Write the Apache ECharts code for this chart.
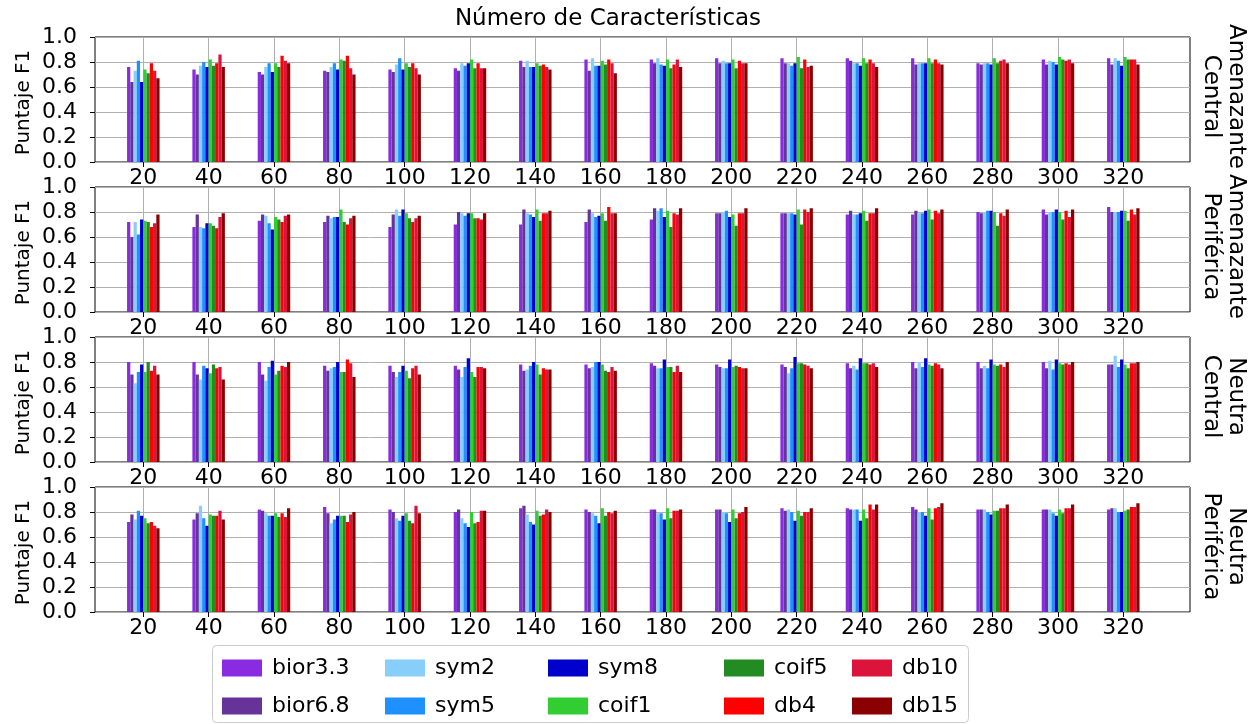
<!DOCTYPE html>
<html><head><meta charset="utf-8">
<script src="https://cdn.jsdelivr.net/npm/echarts@6.0.0/dist/echarts.min.js"></script>
<style>html,body{margin:0;padding:0;background:#fff}#c{width:1260px;height:724px}</style>
</head><body><div id="c"></div>
<script>
// ---------------- DATA ----------------
const categories = ['20','40','60','80','100','120','140','160','180','200','220','240','260','280','300','320'];
const waveletNames = ['bior3.3','bior6.8','sym2','sym5','sym8','coif1','coif5','db4','db10','db15'];
const panelLabels = [['Amenazante','Central'],['Amenazante','Periférica'],['Neutra','Central'],['Neutra','Periférica']];
const titleText = 'Número de Características';
const yAxisTitle = 'Puntaje F1';
// rows = categories (20..320), columns = wavelets in waveletNames order
const amenazanteCentral = [
  [0.76,0.64,0.73,0.81,0.64,0.74,0.71,0.79,0.73,0.67],
  [0.74,0.70,0.77,0.80,0.76,0.82,0.77,0.79,0.86,0.76],
  [0.72,0.70,0.76,0.79,0.72,0.79,0.76,0.85,0.81,0.79],
  [0.73,0.72,0.76,0.79,0.74,0.82,0.81,0.85,0.75,0.70],
  [0.74,0.72,0.78,0.83,0.74,0.79,0.76,0.79,0.75,0.70],
  [0.75,0.73,0.79,0.77,0.79,0.82,0.75,0.79,0.75,0.75],
  [0.81,0.76,0.81,0.76,0.76,0.79,0.77,0.78,0.76,0.74],
  [0.82,0.73,0.83,0.77,0.77,0.81,0.78,0.82,0.79,0.71],
  [0.82,0.79,0.83,0.78,0.77,0.82,0.75,0.78,0.82,0.76],
  [0.83,0.79,0.81,0.79,0.79,0.82,0.75,0.81,0.79,0.79],
  [0.83,0.79,0.79,0.77,0.79,0.84,0.75,0.82,0.76,0.77],
  [0.83,0.81,0.79,0.79,0.77,0.83,0.79,0.82,0.79,0.76],
  [0.83,0.78,0.79,0.79,0.79,0.83,0.79,0.82,0.79,0.78],
  [0.79,0.78,0.79,0.79,0.78,0.83,0.79,0.81,0.82,0.79],
  [0.82,0.78,0.81,0.80,0.78,0.84,0.82,0.81,0.82,0.79],
  [0.83,0.78,0.83,0.81,0.77,0.84,0.82,0.82,0.82,0.78]
];
const amenazantePeriferica = [
  [0.72,0.60,0.72,0.62,0.74,0.73,0.72,0.68,0.71,0.78],
  [0.68,0.78,0.68,0.67,0.71,0.71,0.69,0.67,0.76,0.79],
  [0.73,0.78,0.77,0.71,0.66,0.76,0.74,0.72,0.77,0.78],
  [0.72,0.77,0.75,0.76,0.76,0.82,0.72,0.70,0.75,0.77],
  [0.68,0.78,0.82,0.77,0.82,0.79,0.75,0.72,0.75,0.77],
  [0.70,0.80,0.79,0.77,0.79,0.79,0.75,0.75,0.74,0.79],
  [0.70,0.82,0.79,0.78,0.76,0.82,0.73,0.79,0.79,0.81],
  [0.72,0.82,0.79,0.76,0.77,0.79,0.73,0.84,0.79,0.79],
  [0.74,0.83,0.81,0.83,0.76,0.81,0.68,0.79,0.78,0.83],
  [0.79,0.79,0.80,0.81,0.76,0.78,0.69,0.79,0.79,0.83],
  [0.79,0.79,0.79,0.79,0.78,0.82,0.70,0.82,0.80,0.83],
  [0.78,0.81,0.78,0.78,0.79,0.81,0.73,0.79,0.79,0.83],
  [0.78,0.81,0.79,0.79,0.81,0.82,0.74,0.81,0.79,0.82],
  [0.80,0.79,0.80,0.81,0.81,0.80,0.69,0.79,0.77,0.82],
  [0.82,0.78,0.80,0.80,0.82,0.80,0.74,0.81,0.76,0.82],
  [0.84,0.80,0.80,0.80,0.81,0.81,0.73,0.82,0.78,0.83]
];
const neutraCentral = [
  [0.80,0.70,0.63,0.72,0.78,0.72,0.80,0.73,0.77,0.70],
  [0.80,0.70,0.66,0.77,0.75,0.71,0.78,0.75,0.76,0.66],
  [0.80,0.70,0.65,0.76,0.81,0.70,0.73,0.77,0.76,0.80],
  [0.77,0.73,0.75,0.76,0.80,0.72,0.72,0.82,0.79,0.68],
  [0.77,0.72,0.68,0.72,0.77,0.73,0.67,0.75,0.77,0.70],
  [0.77,0.74,0.68,0.76,0.83,0.72,0.68,0.76,0.76,0.75],
  [0.78,0.73,0.74,0.77,0.80,0.78,0.70,0.75,0.74,0.74],
  [0.78,0.75,0.76,0.80,0.80,0.78,0.73,0.72,0.76,0.73],
  [0.79,0.77,0.75,0.75,0.82,0.76,0.76,0.72,0.77,0.72],
  [0.78,0.76,0.75,0.75,0.82,0.76,0.77,0.76,0.75,0.75],
  [0.78,0.76,0.71,0.75,0.84,0.79,0.79,0.78,0.77,0.75],
  [0.79,0.75,0.77,0.74,0.83,0.79,0.79,0.78,0.79,0.76],
  [0.80,0.75,0.80,0.76,0.83,0.78,0.77,0.79,0.78,0.75],
  [0.80,0.75,0.77,0.75,0.82,0.78,0.77,0.78,0.76,0.80],
  [0.80,0.75,0.81,0.74,0.82,0.79,0.78,0.79,0.78,0.80],
  [0.78,0.78,0.85,0.76,0.82,0.78,0.75,0.79,0.79,0.80]
];
const neutraPeriferica = [
  [0.72,0.78,0.74,0.81,0.77,0.75,0.71,0.72,0.69,0.67],
  [0.74,0.79,0.85,0.75,0.69,0.78,0.77,0.77,0.81,0.74],
  [0.82,0.81,0.79,0.77,0.77,0.79,0.76,0.79,0.76,0.83],
  [0.84,0.79,0.71,0.74,0.77,0.77,0.77,0.72,0.78,0.80],
  [0.82,0.80,0.75,0.73,0.77,0.79,0.73,0.71,0.85,0.79],
  [0.80,0.82,0.75,0.71,0.68,0.80,0.71,0.72,0.81,0.81],
  [0.83,0.85,0.78,0.72,0.70,0.81,0.77,0.78,0.82,0.80],
  [0.82,0.80,0.79,0.77,0.71,0.83,0.77,0.80,0.79,0.81],
  [0.82,0.82,0.79,0.79,0.74,0.83,0.75,0.81,0.81,0.82],
  [0.82,0.82,0.80,0.79,0.72,0.82,0.75,0.79,0.80,0.84],
  [0.83,0.81,0.82,0.80,0.73,0.81,0.77,0.80,0.80,0.83],
  [0.83,0.82,0.82,0.82,0.73,0.82,0.75,0.86,0.82,0.86],
  [0.84,0.82,0.80,0.80,0.77,0.83,0.74,0.83,0.84,0.87],
  [0.82,0.82,0.82,0.80,0.78,0.81,0.81,0.83,0.83,0.86],
  [0.82,0.82,0.82,0.79,0.77,0.82,0.79,0.83,0.83,0.86],
  [0.82,0.83,0.83,0.80,0.80,0.81,0.82,0.84,0.84,0.87]
];
const panels = [amenazanteCentral, amenazantePeriferica, neutraCentral, neutraPeriferica];

// ---------------- STYLE ----------------
const colors = ['#8A2BE2','#663399','#87CEFA','#1E90FF','#0000CD','#32CD32','#228B22','#FF0000','#DC143C','#8B0000'];
const FONT = 'DejaVu Sans';
const FS_TICK = 22, FS_TITLE = 23, FS_LABEL = 20, FS_SIDE = 23, FS_LEG = 22;
const panelTops = [37, 187, 337, 487];
const panelH = 125;
const frameLeft = 95, frameRight = 1190;
const tickFirst = 143.3, tickLast = 1123.3;
const gridColor = '#b0b0b0';

const chart = echarts.init(document.getElementById('c'), null, {renderer: 'canvas'});
const grid = [], xAxis = [], yAxis = [], series = [], graphic = [], legend = [];

panels.forEach((rows, p) => {
  const top = panelTops[p];
  grid.push({left: frameLeft, right: 1260 - frameRight, top: top, height: panelH,
    show: true, borderColor: '#000', borderWidth: 1, backgroundColor: 'transparent', z: 0});
  grid.push({left: tickFirst, right: 1260 - tickLast, top: top, height: panelH});
  const gf = 2 * p, gd = 2 * p + 1;
  xAxis.push({gridIndex: gf, type: 'value', min: 0, max: 1, show: false});
  xAxis.push({gridIndex: gd, type: 'category', data: categories, boundaryGap: false,
    axisLine: {show: false},
    axisTick: {show: true, length: 5, lineStyle: {color: '#000', width: 1}},
    axisLabel: {fontSize: FS_TICK, color: '#000', fontFamily: FONT, margin: 5, interval: 0},
    splitLine: {show: true, lineStyle: {color: gridColor, width: 1}}});
  yAxis.push({gridIndex: gf, type: 'value', min: 0, max: 1, interval: 0.2,
    axisLine: {show: false},
    axisTick: {show: true, length: 5, lineStyle: {color: '#000', width: 1}},
    axisLabel: {fontSize: FS_TICK, color: '#000', fontFamily: FONT, margin: 18, formatter: v => v.toFixed(1)},
    splitLine: {show: true, lineStyle: {color: gridColor, width: 1}}});
  yAxis.push({gridIndex: gd, type: 'value', min: 0, max: 1, show: false});
  waveletNames.forEach((name, w) => {
    series.push({type: 'bar', name: name, xAxisIndex: gd, yAxisIndex: gd,
      data: rows.map(r => r[w]), barWidth: 3.25, barGap: '0%', clip: false,
      itemStyle: {color: colors[w]}, animation: false});
  });
  const cy = top + panelH / 2;
  graphic.push({type: 'text', x: 24, y: cy + 3, rotation: Math.PI / 2,
    style: {text: yAxisTitle, font: FS_LABEL + 'px ' + FONT, fill: '#000', textAlign: 'center', textVerticalAlign: 'middle'}});
  graphic.push({type: 'text', x: 1223, y: cy - 3, rotation: -Math.PI / 2,
    style: {text: panelLabels[p].join('\n'), font: FS_SIDE + 'px ' + FONT, lineHeight: 25, fill: '#000', textAlign: 'center', textVerticalAlign: 'middle'}});
});

graphic.push({type: 'text', x: 608, y: 19,
  style: {text: titleText, font: FS_TITLE + 'px ' + FONT, fill: '#000', textAlign: 'center', textVerticalAlign: 'middle'}});
graphic.push({type: 'rect', shape: {x: 212.5, y: 645.5, width: 756, height: 77, r: 4},
  style: {fill: '#fff', stroke: '#cccccc', lineWidth: 1}, z: -1});

const legendPos = [[222,657],[222,695],[385,657],[385,695],[548,657],[548,695],[724,657],[724,695],[852,657],[852,695]];
waveletNames.forEach((name, w) => {
  legend.push({data: [name], left: legendPos[w][0], top: legendPos[w][1], padding: 0,
    itemWidth: 40, itemHeight: 17, icon: 'rect', selectedMode: false,
    textStyle: {fontSize: FS_LEG, color: '#000', fontFamily: FONT, padding: [0, 0, 0, 5]}});
});

chart.setOption({
  animation: false,
  textStyle: {fontFamily: FONT},
  grid, xAxis, yAxis, series, graphic, legend
});
</script></body></html>
